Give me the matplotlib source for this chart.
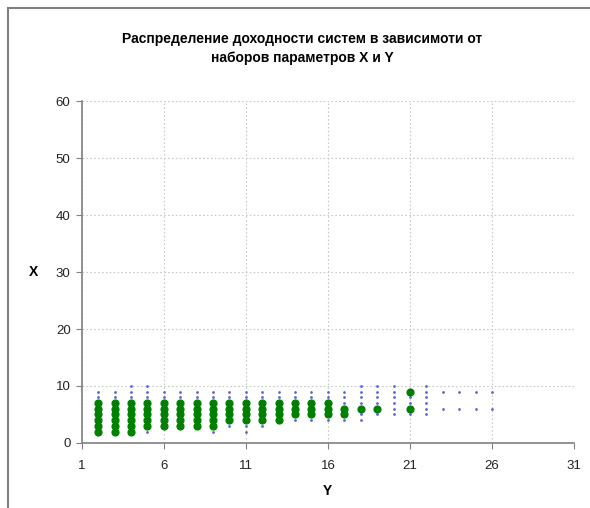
import matplotlib.pyplot as plt
from matplotlib.lines import Line2D

plt.rcParams['font.family'] = ['Liberation Sans', 'DejaVu Sans']

# значения Y (ось абсцисс)
y_cols = [2, 3, 4, 5, 6, 7, 8, 9, 10, 11, 12, 13, 14, 15, 16, 17, 18, 19, 20, 21, 22, 23, 24, 25, 26]

# все проверенные наборы (синие точки): значения X для каждого Y
all_x = [
    [2, 3, 4, 5, 6, 7, 8, 9],
    [2, 3, 4, 5, 6, 7, 8, 9],
    [2, 3, 4, 5, 6, 7, 8, 9, 10],
    [2, 3, 4, 5, 6, 7, 8, 9, 10],
    [3, 4, 5, 6, 7, 8, 9],
    [3, 4, 5, 6, 7, 8, 9],
    [3, 4, 5, 6, 7, 8, 9],
    [2, 3, 4, 5, 6, 7, 8, 9],
    [3, 4, 5, 6, 7, 8, 9],
    [2, 3, 4, 5, 6, 7, 8, 9],
    [3, 4, 5, 6, 7, 8, 9],
    [4, 5, 6, 7, 8, 9],
    [4, 5, 6, 7, 8, 9],
    [4, 5, 6, 7, 8, 9],
    [4, 5, 6, 7, 8, 9],
    [4, 5, 6, 7, 8, 9],
    [4, 5, 6, 7, 8, 9, 10],
    [5, 6, 7, 8, 9, 10],
    [5, 6, 7, 8, 9, 10],
    [5, 6, 7, 8, 9],
    [5, 6, 7, 8, 9, 10],
    [6, 9],
    [6, 9],
    [6, 9],
    [6, 9],
]

# доходные наборы (зелёные маркеры)
good_x = [
    [2, 3, 4, 5, 6, 7],
    [2, 3, 4, 5, 6, 7],
    [2, 3, 4, 5, 6, 7],
    [3, 4, 5, 6, 7],
    [3, 4, 5, 6, 7],
    [3, 4, 5, 6, 7],
    [3, 4, 5, 6, 7],
    [3, 4, 5, 6, 7],
    [4, 5, 6, 7],
    [4, 5, 6, 7],
    [4, 5, 6, 7],
    [4, 5, 6, 7],
    [5, 6, 7],
    [5, 6, 7],
    [5, 6, 7],
    [5, 6],
    [6],
    [6],
    [],
    [6, 9],
    [],
    [],
    [],
    [],
    [],
]

x_ticks = [1, 6, 11, 16, 21, 26, 31]
y_ticks = [0, 10, 20, 30, 40, 50, 60]

fig = plt.figure(figsize=(5.9, 5.08), dpi=100)
ax = fig.add_axes([0.1385, 0.128, 0.8345, 0.673])

# рамка страницы
fig.add_artist(Line2D([0.0136, 1.0], [0.984, 0.984], transform=fig.transFigure, color='#808080', lw=1.5))
fig.add_artist(Line2D([0.0136, 0.0136], [0.0, 0.984], transform=fig.transFigure, color='#808080', lw=1.5))

bx, by = [], []
for yv, xs in zip(y_cols, all_x):
    for xv in xs:
        bx.append(yv)
        by.append(xv)
gx, gy = [], []
for yv, xs in zip(y_cols, good_x):
    for xv in xs:
        gx.append(yv)
        gy.append(xv)

ax.plot(bx, by, linestyle='none', marker='o', ms=2.0, color='#5a64d2', mec='none', zorder=3)
ax.plot(gx, gy, linestyle='none', marker='o', ms=4.9, color='#008000', mec='#008000', zorder=4)

ax.set_xlim(1, 31)
ax.set_ylim(0, 60)
ax.set_xticks(x_ticks)
ax.set_yticks(y_ticks)
ax.tick_params(axis='both', direction='out', length=4, color='#808080', labelsize=9.5, labelcolor='#222222')
ax.tick_params(axis='x', pad=8)
ax.tick_params(axis='y', pad=4)
ax.grid(True, linestyle=(0, (1.5, 2)), color='#c8c8c8', lw=0.8)
ax.set_axisbelow(True)
for s in ['top', 'right']:
    ax.spines[s].set_visible(False)
for s in ['left', 'bottom']:
    ax.spines[s].set_color('#808080')
    ax.spines[s].set_linewidth(1.2)

ax.set_xlabel('Y', fontsize=10, fontweight='bold', labelpad=9)
ax.set_ylabel('X', fontsize=10, fontweight='bold', rotation=0, labelpad=16, va='center')

fig.text(0.512, 0.905, 'Распределение доходности систем в зависимоти от\nнаборов параметров X и Y',
         ha='center', va='center', fontsize=10, fontweight='bold', linespacing=1.5)

fig.savefig('out.png', dpi=100)
